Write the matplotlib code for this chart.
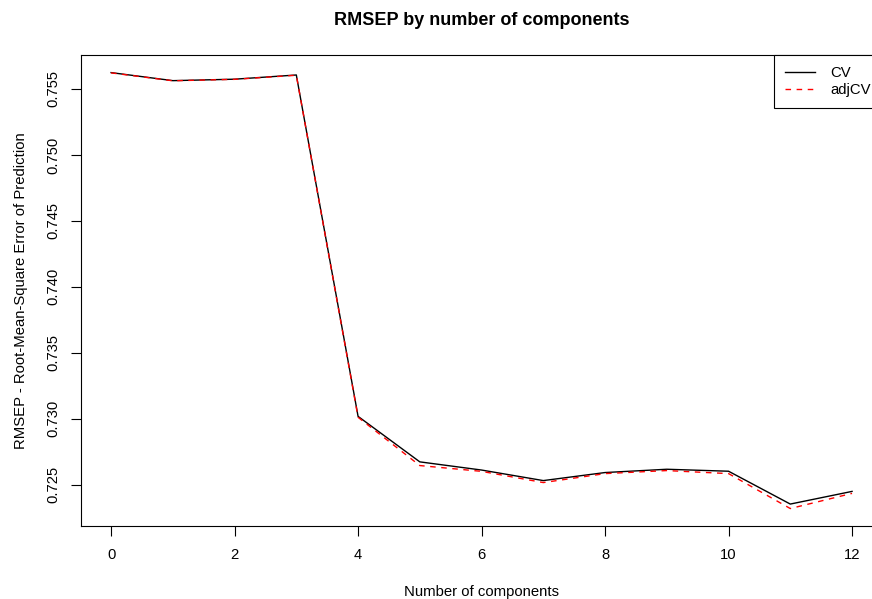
import matplotlib
matplotlib.use('Agg')
from matplotlib import pyplot as plt

plt.rcParams['font.family'] = ['Liberation Sans', 'DejaVu Sans']

components = [0, 1, 2, 3, 4, 5, 6, 7, 8, 9, 10, 11, 12]
cv = [0.75624, 0.75563, 0.75574, 0.75606, 0.73017, 0.72672, 0.72610,
      0.72530, 0.72591, 0.72616, 0.72601, 0.72352, 0.72448]
adj_cv = [0.75622, 0.75562, 0.75573, 0.75604, 0.73010, 0.72644, 0.72600,
          0.72515, 0.72583, 0.72606, 0.72583, 0.72318, 0.72433]
x_ticks = [0, 2, 4, 6, 8, 10, 12]
y_ticks = [0.725, 0.730, 0.735, 0.740, 0.745, 0.750, 0.755]

fig = plt.figure(figsize=(8.72, 5.99), dpi=100)
ax = fig.add_axes([0.0934, 0.1219, 0.9177, 0.786])

ax.plot(components, cv, color='black', lw=1.0, label='CV')
ax.plot(components, adj_cv, color='red', lw=1.0, dashes=(4, 4), label='adjCV')

lo, hi = min(cv + adj_cv), max(cv + adj_cv)
pad = (hi - lo) * 0.04
ax.set_ylim(lo - pad, hi + pad)
ax.set_xlim(-0.48, 12.48)

ax.set_xticks(x_ticks)
ax.set_xticklabels([str(t) for t in x_ticks])
ax.set_yticks(y_ticks)
ax.set_yticklabels(['%.3f' % t for t in y_ticks], rotation=90, va='center')
ax.tick_params(direction='out', length=7, width=0.8, labelsize=10.6, pad=8.5)
for s in ax.spines.values():
    s.set_linewidth(0.8)

ax.set_title('RMSEP by number of components', fontsize=13, fontweight='bold', pad=22)
ax.set_xlabel('Number of components', fontsize=10.7, labelpad=17)
ax.set_ylabel('RMSEP - Root-Mean-Square Error of Prediction', fontsize=10.7, labelpad=13)

leg = ax.legend(loc='upper right', borderaxespad=0, fontsize=10.7, fancybox=False,
                framealpha=1, edgecolor='black', handlelength=2.0, borderpad=0.75,
                labelspacing=0.2, handletextpad=1.0)
leg.get_frame().set_linewidth(0.8)

fig.savefig('out.png', dpi=100)
